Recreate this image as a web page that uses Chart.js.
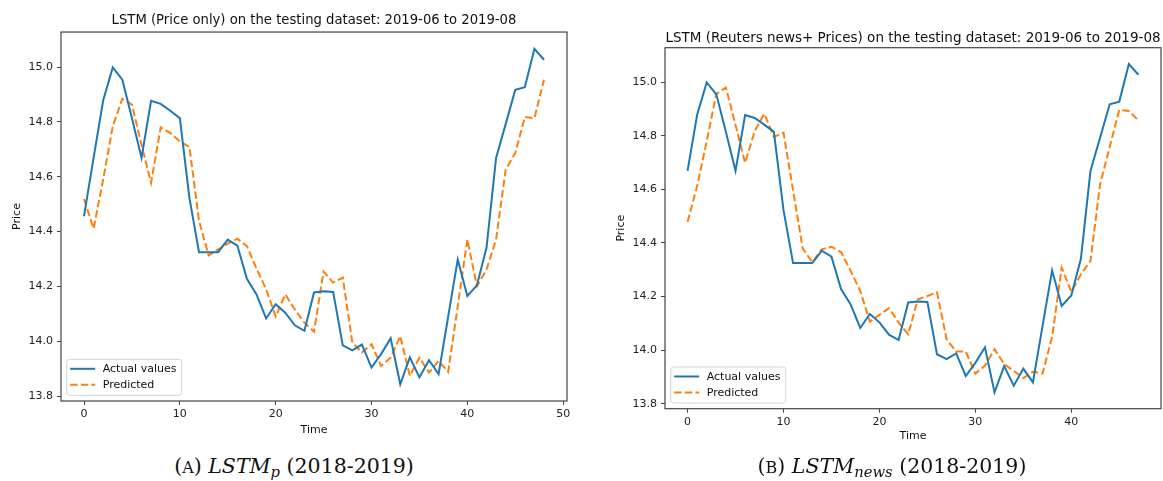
<!DOCTYPE html>
<html>
<head>
<meta charset="utf-8">
<script src="https://cdn.jsdelivr.net/npm/chart.js@4.4.0/dist/chart.umd.min.js"></script>
<style>
  html, body { margin: 0; padding: 0; background: #fff; }
  body { position: relative; width: 1163px; height: 481px; overflow: hidden; }
  canvas { position: absolute; top: 0; }
  #leftChart { left: 0; }
  #rightChart { left: 604px; }
  .cap {
    position: absolute; top: 454px; width: 400px; text-align: center;
    font-family: "DejaVu Serif", serif; font-size: 20.5px; line-height: 24px; color: #111;
  }
  .cap .sc { font-size: 0.78em; }
  .cap sub { font-size: 0.72em; vertical-align: -0.3em; line-height: 0; }
</style>
</head>
<body>
<canvas id="leftChart" width="628" height="445"></canvas>
<canvas id="rightChart" width="618" height="453"></canvas>
<div class="cap" style="left:94px">(<span class="sc">A</span>) <i>LSTM<sub>p</sub></i> (2018-2019)</div>
<div class="cap" style="left:692px">(<span class="sc">B</span>) <i>LSTM<sub>news</sub></i> (2018-2019)</div>

<script>
// closing prices, same series for both panels (right panel starts one step later)
const actualPrices = [
  14.456, 14.669, 14.878, 14.999, 14.954, 14.814, 14.669, 14.877, 14.866, 14.841,
  14.814, 14.523, 14.325, 14.325, 14.325, 14.371, 14.349, 14.228, 14.171, 14.083,
  14.135, 14.104, 14.058, 14.038, 14.178, 14.182, 14.180, 13.985, 13.967, 13.988,
  13.904, 13.953, 14.011, 13.843, 13.941, 13.868, 13.931, 13.880, 14.090, 14.298,
  14.165, 14.204, 14.341, 14.669, 14.792, 14.917, 14.927, 15.067, 15.027
];
const actualNews = actualPrices.slice(1);

// LSTM on prices only
const predictedPrice = [
  14.519, 14.411, 14.590, 14.784, 14.885, 14.863, 14.717, 14.578, 14.780, 14.760,
  14.729, 14.709, 14.440, 14.313, 14.335, 14.356, 14.374, 14.347, 14.265, 14.190,
  14.090, 14.171, 14.116, 14.068, 14.035, 14.254, 14.214, 14.232, 13.995, 13.959,
  13.989, 13.910, 13.940, 14.019, 13.874, 13.940, 13.886, 13.928, 13.888, 14.128,
  14.371, 14.201, 14.262, 14.371, 14.626, 14.687, 14.818, 14.814, 14.954
];

// LSTM on Reuters news + prices
const predictedNews = [
  14.478, 14.612, 14.780, 14.956, 14.979, 14.840, 14.699, 14.817, 14.882, 14.795,
  14.811, 14.596, 14.380, 14.328, 14.376, 14.386, 14.366, 14.296, 14.221, 14.107,
  14.132, 14.157, 14.103, 14.059, 14.190, 14.202, 14.216, 14.041, 13.995, 13.995,
  13.913, 13.942, 14.004, 13.948, 13.923, 13.896, 13.920, 13.913, 14.050, 14.308,
  14.218, 14.283, 14.333, 14.619, 14.758, 14.896, 14.892, 14.857
];

const priceTicks = [13.8, 14.0, 14.2, 14.4, 14.6, 14.8, 15.0];
const timeTicksLeft = [0, 10, 20, 30, 40, 50];
const timeTicksRight = [0, 10, 20, 30, 40];

const BLUE = "#1f77b4";
const ORANGE = "#ff7f0e";
const FONT = "DejaVu Sans";

// box around the axes + legend in the lower left corner
const framePlugin = {
  id: "frame",
  afterDraw(chart) {
    const { ctx, chartArea: a } = chart;
    ctx.save();
    ctx.strokeStyle = "#444";
    ctx.lineWidth = 1.2;
    ctx.strokeRect(a.left, a.top, a.right - a.left, a.bottom - a.top);

    const w = 115, h = 36;
    const x = a.left + 5.7, y = a.bottom - 5.7 - h;
    ctx.beginPath();
    ctx.roundRect(x, y, w, h, 3);
    ctx.fillStyle = "rgba(255,255,255,0.8)";
    ctx.fill();
    ctx.strokeStyle = "#d4d4d4";
    ctx.lineWidth = 1;
    ctx.stroke();

    ctx.font = "11px " + FONT;
    ctx.textBaseline = "middle";
    chart.data.datasets.forEach((ds, i) => {
      const ry = y + 9.5 + i * 16;
      ctx.beginPath();
      ctx.setLineDash(ds.borderDash || []);
      ctx.strokeStyle = ds.borderColor;
      ctx.lineWidth = ds.borderWidth;
      ctx.moveTo(x + 3.5, ry);
      ctx.lineTo(x + 28.5, ry);
      ctx.stroke();
      ctx.setLineDash([]);
      ctx.fillStyle = "#111";
      ctx.fillText(ds.label, x + 36, ry + 0.5);
    });
    ctx.restore();
  }
};

function makeChart(id, title, actual, predicted, opts) {
  const ctx = document.getElementById(id).getContext("2d");
  return new Chart(ctx, {
    type: "line",
    data: {
      datasets: [
        {
          label: "Actual values",
          data: actual.map((v, i) => ({ x: i, y: v })),
          borderColor: BLUE,
          borderWidth: 2,
          pointRadius: 0,
          tension: 0
        },
        {
          label: "Predicted",
          data: predicted.map((v, i) => ({ x: i, y: v })),
          borderColor: ORANGE,
          borderWidth: 2,
          borderDash: [7.4, 3.2],
          pointRadius: 0,
          tension: 0
        }
      ]
    },
    options: {
      responsive: false,
      animation: false,
      devicePixelRatio: 1,
      plugins: {
        legend: { display: false },
        tooltip: { enabled: false },
        title: {
          display: true,
          text: title,
          color: "#111",
          font: { family: FONT, size: opts.titleSize, weight: "normal" },
          padding: opts.titlePad
        }
      },
      scales: {
        x: {
          type: "linear",
          min: opts.xMin,
          max: opts.xMax,
          afterBuildTicks: s => { s.ticks = opts.xTicks.map(v => ({ value: v })); },
          afterFit: s => { s.height = opts.xAxisHeight; },
          border: { display: false },
          grid: { drawOnChartArea: false, drawTicks: true, tickLength: 4, color: "#444" },
          ticks: { color: "#222", padding: 3, maxRotation: 0, font: { family: FONT, size: 11 } },
          title: {
            display: true, text: "Time", color: "#111",
            font: { family: FONT, size: 11 }, padding: { top: 0, bottom: opts.timePad }
          }
        },
        y: {
          min: 13.782,
          max: 15.128,
          afterBuildTicks: s => { s.ticks = priceTicks.map(v => ({ value: v })); },
          afterFit: s => { s.width = 61; },
          border: { display: false },
          grid: { drawOnChartArea: false, drawTicks: true, tickLength: 4, color: "#444" },
          ticks: {
            color: "#222", padding: 4, font: { family: FONT, size: 11 },
            callback: v => v.toFixed(1)
          },
          title: {
            display: true, text: "Price", color: "#111",
            font: { family: FONT, size: 11 }, padding: { top: opts.pricePad, bottom: 0 }
          }
        },
        // empty spacer on the right so the title centres over the axes
        spacer: {
          position: "right",
          afterFit: s => { s.width = 61; },
          border: { display: false },
          grid: { display: false },
          ticks: { display: false }
        }
      }
    },
    plugins: [framePlugin]
  });
}

makeChart("leftChart", "LSTM (Price only) on the testing dataset: 2019-06 to 2019-08",
  actualPrices, predictedPrice, {
    xMin: -2.4, xMax: 50.4, xTicks: timeTicksLeft, titleSize: 13.2,
    titlePad: { top: 13.1, bottom: 3.1 }, xAxisHeight: 44, timePad: 8, pricePad: 11
  });

makeChart("rightChart", "LSTM (Reuters news+ Prices) on the testing dataset: 2019-06 to 2019-08",
  actualNews, predictedNews, {
    xMin: -2.35, xMax: 49.35, xTicks: timeTicksRight, titleSize: 13.5,
    titlePad: { top: 29.9, bottom: 1.6 }, xAxisHeight: 44.3, timePad: 10, pricePad: 11
  });
</script>
</body>
</html>
